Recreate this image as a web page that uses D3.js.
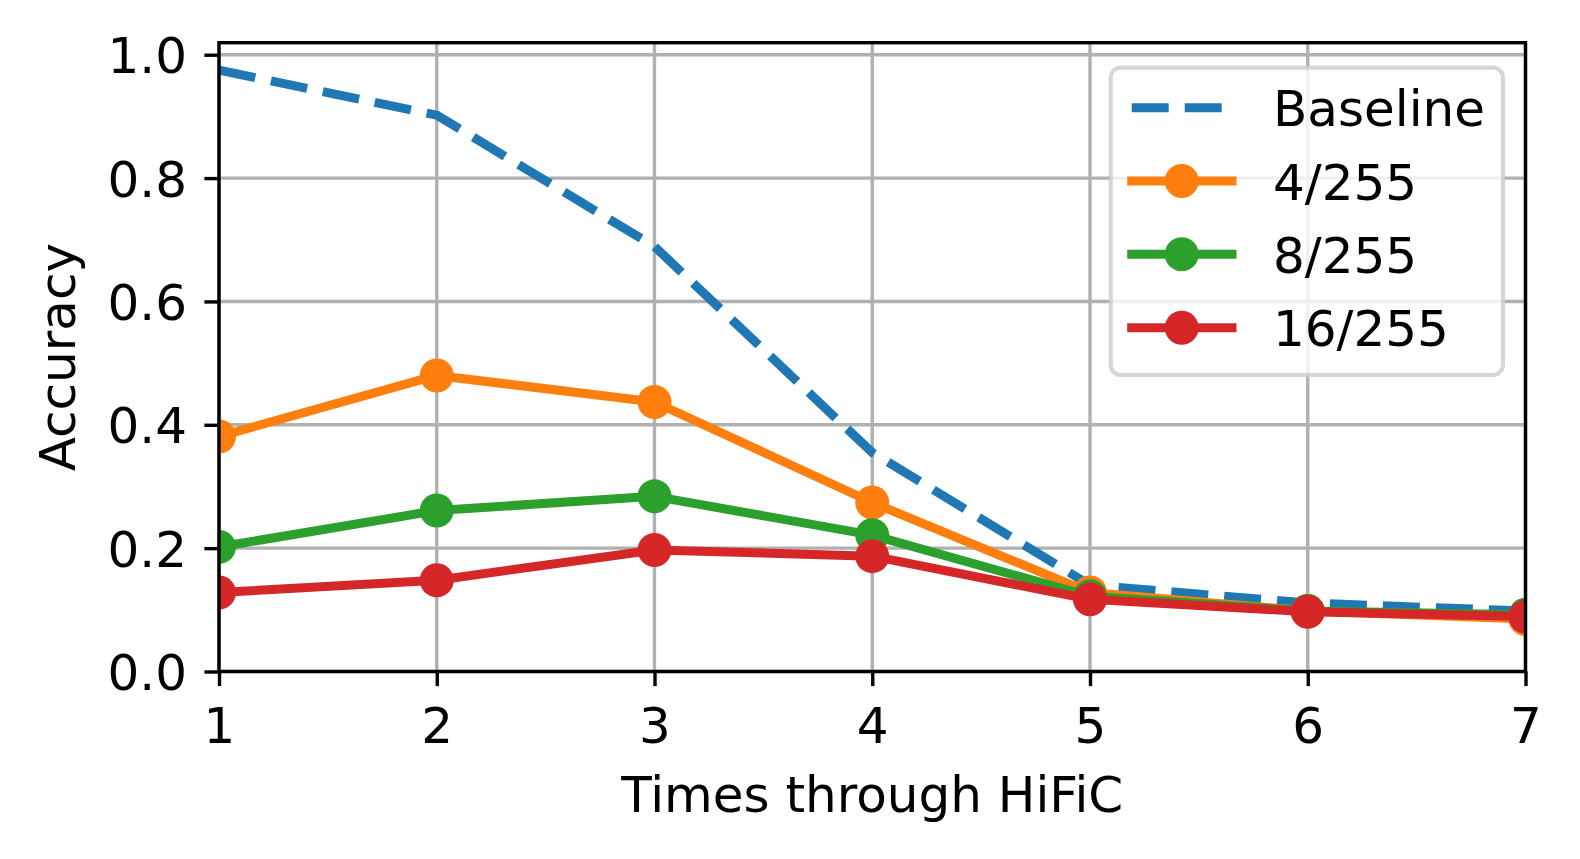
<!DOCTYPE html>
<html>
<head>
<meta charset="utf-8">
<script src="https://cdn.jsdelivr.net/npm/d3@7"></script>
<style>
  html, body { margin: 0; padding: 0; background: #ffffff; }
  svg { display: block; }
  text { font-family: "DejaVu Sans", sans-serif; fill: #000; }
</style>
</head>
<body>
<svg id="chart" width="1580" height="859"></svg>
<script>
// ---- data ----
const xValues = [1, 2, 3, 4, 5, 6, 7];
const baseline = [0.975, 0.902, 0.689, 0.355, 0.140, 0.111, 0.098];
const eps4 = [0.381, 0.480, 0.437, 0.274, 0.128, 0.098, 0.085];
const eps8 = [0.202, 0.261, 0.284, 0.221, 0.122, 0.098, 0.092];
const eps16 = [0.128, 0.148, 0.197, 0.187, 0.117, 0.097, 0.089];
const seriesNames = ["Baseline", "4/255", "8/255", "16/255"];
const xTicks = [1, 2, 3, 4, 5, 6, 7];
const yTicks = [0.0, 0.2, 0.4, 0.6, 0.8, 1.0];
const xLabel = "Times through HiFiC";
const yLabel = "Accuracy";

const series = [
  { name: seriesNames[0], values: baseline, color: "#1f77b4", dashed: true, marker: false },
  { name: seriesNames[1], values: eps4, color: "#ff7f0e", dashed: false, marker: true },
  { name: seriesNames[2], values: eps8, color: "#2ca02c", dashed: false, marker: true },
  { name: seriesNames[3], values: eps16, color: "#d62728", dashed: false, marker: true }
];

// ---- layout ----
const L = 219, R = 1525.5, T = 42.7, B = 671.5;
const LW = 9, MR = 17, GRID = 3.4, SPINE = 3.4, TICK = 14.6, PAD = 14.6, FS = 50;
const DASH = "37,16";

const svg = d3.select("#chart");
const x = d3.scaleLinear().domain([1, 7]).range([L, R]);
const y = d3.scaleLinear().domain([0, 1.0195]).range([B, T]);

svg.append("defs").append("clipPath").attr("id", "clip")
  .append("rect").attr("x", L).attr("y", T).attr("width", R - L).attr("height", B - T);

// grid
const grid = svg.append("g");
grid.selectAll("line.gx").data(xTicks).join("line")
  .attr("x1", d => x(d)).attr("x2", d => x(d)).attr("y1", T).attr("y2", B)
  .attr("stroke", "#b0b0b0").attr("stroke-width", GRID);
grid.selectAll("line.gy").data(yTicks).join("line")
  .attr("x1", L).attr("x2", R).attr("y1", d => y(d)).attr("y2", d => y(d))
  .attr("stroke", "#b0b0b0").attr("stroke-width", GRID);

// lines
const plot = svg.append("g").attr("clip-path", "url(#clip)");
const line = d3.line().x((d, i) => x(xValues[i])).y(d => y(d));
series.forEach(s => {
  plot.append("path").datum(s.values)
    .attr("d", line)
    .attr("fill", "none")
    .attr("stroke", s.color)
    .attr("stroke-width", LW)
    .attr("stroke-linejoin", "round")
    .attr("stroke-linecap", s.dashed ? "butt" : "square")
    .attr("stroke-dasharray", s.dashed ? DASH : null);
  if (s.marker) {
    plot.selectAll(null).data(s.values).join("circle")
      .attr("cx", (d, i) => x(xValues[i])).attr("cy", d => y(d))
      .attr("r", MR).attr("fill", s.color);
  }
});

// axes
const xAxis = d3.axisBottom(x).tickValues(xTicks).tickFormat(d3.format("d"))
  .tickSize(TICK).tickPadding(PAD);
const yAxis = d3.axisLeft(y).tickValues(yTicks).tickFormat(d3.format(".1f"))
  .tickSize(TICK).tickPadding(PAD);

const gx = svg.append("g").attr("transform", `translate(0,${B})`).call(xAxis);
const gy = svg.append("g").attr("transform", `translate(${L},0)`).call(yAxis);
[gx, gy].forEach(g => {
  g.select(".domain").remove();
  g.selectAll(".tick line").attr("stroke", "#000").attr("stroke-width", SPINE);
  g.selectAll(".tick text").attr("font-size", FS).attr("font-family", "DejaVu Sans").attr("fill", "#000");
});
gx.selectAll(".tick text").attr("dy", null).attr("y", 743 - B).attr("dominant-baseline", "alphabetic");
gy.selectAll(".tick text").attr("x", -(L - 187)).attr("dy", "0.36em");

// spines
svg.append("rect").attr("x", L).attr("y", T).attr("width", R - L).attr("height", B - T)
  .attr("fill", "none").attr("stroke", "#000").attr("stroke-width", SPINE);

// axis labels
svg.append("text").attr("x", (L + R) / 2).attr("y", 812)
  .attr("text-anchor", "middle").attr("font-size", FS).text(xLabel);
svg.append("text").attr("transform", `translate(75,${(T + B) / 2}) rotate(-90)`)
  .attr("text-anchor", "middle").attr("font-size", FS).text(yLabel);

// legend
const lg = svg.append("g");
lg.append("rect").attr("x", 1110.7).attr("y", 67.7).attr("width", 1503 - 1110.7).attr("height", 375 - 67.7)
  .attr("rx", 10).attr("ry", 10)
  .attr("fill", "#ffffff").attr("fill-opacity", 0.8)
  .attr("stroke", "#cccccc").attr("stroke-opacity", 0.8).attr("stroke-width", 4.2);
const rowY = [107.7, 181, 254.3, 327.7];
series.forEach((s, i) => {
  const yy = rowY[i];
  if (s.dashed) {
    lg.append("line").attr("x1", 1131.7).attr("x2", 1232).attr("y1", yy).attr("y2", yy)
      .attr("stroke", s.color).attr("stroke-width", LW).attr("stroke-dasharray", DASH)
      .attr("stroke-linecap", "butt");
  } else {
    lg.append("line").attr("x1", 1131.7).attr("x2", 1232).attr("y1", yy).attr("y2", yy)
      .attr("stroke", s.color).attr("stroke-width", LW).attr("stroke-linecap", "square");
    lg.append("circle").attr("cx", 1181.7).attr("cy", yy).attr("r", MR).attr("fill", s.color);
  }
  lg.append("text").attr("x", 1273).attr("y", yy + 18.5).attr("font-size", FS).text(s.name);
});
</script>
</body>
</html>
